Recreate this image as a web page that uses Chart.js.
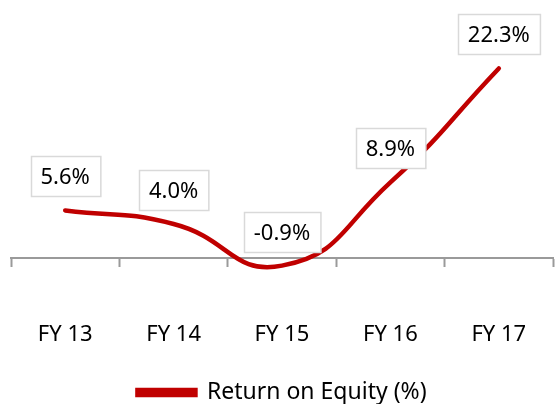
<!DOCTYPE html>
<html>
<head>
<meta charset="utf-8">
<script src="https://cdn.jsdelivr.net/npm/chart.js@4.4.1/dist/chart.umd.min.js"></script>
<style>
  html, body { margin: 0; padding: 0; background: #ffffff; }
  #wrap { width: 555px; height: 404px; position: relative; }
</style>
</head>
<body>
<div id="wrap"><canvas id="c" width="555" height="404"></canvas></div>
<script>
const categories = ["FY 13", "FY 14", "FY 15", "FY 16", "FY 17"];
const roeValues = [5.6, 4.0, -0.9, 8.9, 22.3];
const seriesName = "Return on Equity (%)";

const FONT = "'Noto Sans', 'Open Sans', sans-serif";

const boxLabels = {
  id: 'boxLabels',
  afterDatasetsDraw(chart) {
    const ctx = chart.ctx;
    const meta = chart.getDatasetMeta(0);
    const vals = chart.data.datasets[0].data;
    ctx.save();
    ctx.font = "22px " + FONT;
    ctx.textAlign = 'center';
    ctx.textBaseline = 'middle';
    meta.data.forEach((pt, i) => {
      const txt = vals[i].toFixed(1) + '%';
      const tw = ctx.measureText(txt).width;
      const w = tw + 20, h = 40;
      const bottom = pt.y - 14;
      const x0 = Math.round(pt.x - w / 2) + 0.5;
      const y0 = Math.round(bottom - h) + 0.5;
      ctx.fillStyle = '#ffffff';
      ctx.fillRect(x0, y0, w, h);
      ctx.strokeStyle = '#d9d9d9';
      ctx.lineWidth = 1.5;
      ctx.strokeRect(x0, y0, w, h);
      ctx.fillStyle = '#000000';
      ctx.fillText(txt, pt.x, y0 + h / 2 + 1);
    });
    ctx.restore();
  }
};

new Chart(document.getElementById('c'), {
  type: 'line',
  data: {
    labels: categories,
    datasets: [{
      label: seriesName,
      data: roeValues,
      borderColor: '#c00000',
      backgroundColor: '#c00000',
      borderWidth: 4.5,
      borderCapStyle: 'round',
      tension: 0.5,
      pointRadius: 0,
      clip: false,
      fill: false
    }]
  },
  options: {
    responsive: false,
    animation: false,
    layout: { padding: { left: 11, right: 2, top: 3, bottom: -10 } },
    scales: {
      x: {
        offset: true,
        afterFit(scale) {
          scale.paddingLeft = 0;
          scale.paddingRight = 0;
          scale.height = 115;
        },
        grid: {
          offset: true,
          drawOnChartArea: false,
          drawTicks: true,
          tickLength: 9,
          tickWidth: 2,
          tickColor: '#9a9a9a'
        },
        border: { display: true, color: '#9a9a9a', width: 2 },
        ticks: {
          color: '#000000',
          padding: 55,
          font: { family: FONT, size: 22 },
          maxRotation: 0
        }
      },
      y: {
        display: false,
        min: 0,
        max: 30
      }
    },
    plugins: {
      legend: {
        position: 'bottom',
        labels: {
          color: '#000000',
          font: { family: FONT, size: 23 },
          boxWidth: 58,
          boxHeight: 5,
          padding: 8
        }
      },
      tooltip: { enabled: false }
    }
  },
  plugins: [boxLabels]
});
</script>
</body>
</html>
